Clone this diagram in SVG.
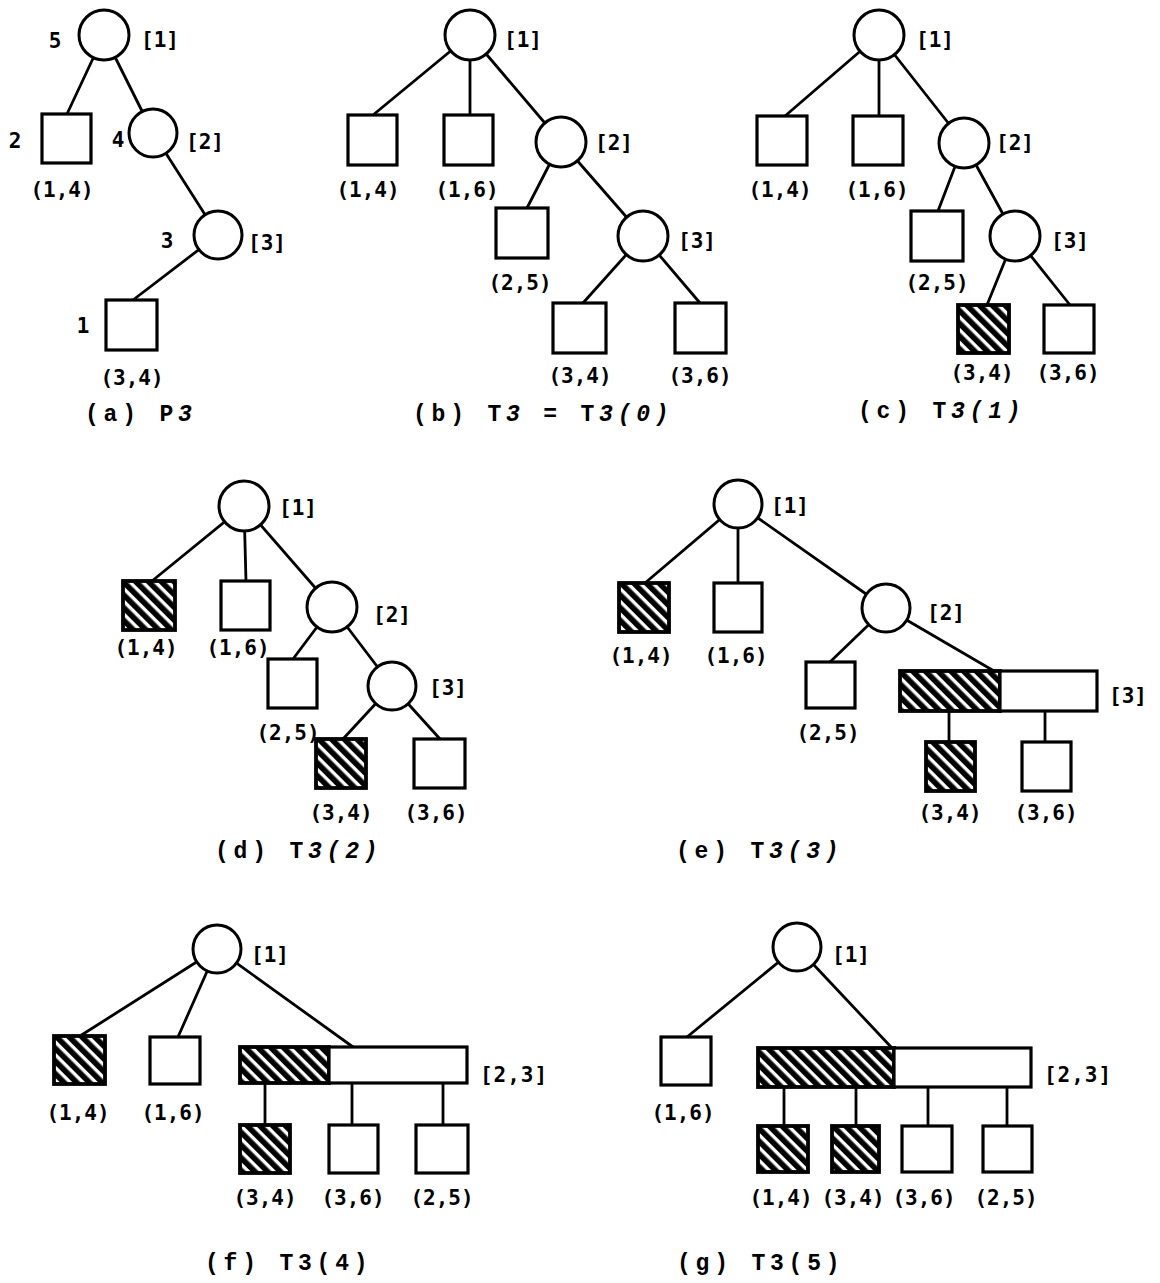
<svg xmlns="http://www.w3.org/2000/svg" width="1160" height="1283" viewBox="0 0 1160 1283">
<style>
.e{stroke:#000;stroke-width:2.8;fill:none;stroke-linecap:round}
.c{fill:#fff;stroke:#000;stroke-width:3}
.s{fill:#fff;stroke:#000;stroke-width:3.2}
.h{fill:url(#hatch);stroke:#000;stroke-width:3.8}
.t{font-family:"DejaVu Sans Mono","Liberation Mono",monospace;font-weight:bold;font-size:21px;text-anchor:middle;fill:#000}
.w{letter-spacing:1px}
.k{font-family:"Liberation Mono","DejaVu Sans Mono",monospace;font-weight:bold;font-size:23px;letter-spacing:4.8px;fill:#000}
.i{font-style:italic}
</style>
<defs>
<pattern id="hatch" patternUnits="userSpaceOnUse" width="9" height="9" patternTransform="rotate(45)">
<rect width="9" height="9" fill="#000"/>
<rect y="3" width="9" height="3.4" fill="#fff"/>
</pattern>
</defs>
<rect width="1160" height="1283" fill="#fff"/>
<g id="connectors" class="e">
<line x1="104" y1="35" x2="67" y2="114"/>
<line x1="104" y1="35" x2="153" y2="133"/>
<line x1="153" y1="133" x2="218" y2="235"/>
<line x1="218" y1="235" x2="133" y2="300"/>
<line x1="470" y1="35" x2="373" y2="115"/>
<line x1="470" y1="35" x2="470" y2="115"/>
<line x1="470" y1="35" x2="561" y2="142"/>
<line x1="561" y1="142" x2="527" y2="208"/>
<line x1="561" y1="142" x2="643" y2="236"/>
<line x1="643" y1="236" x2="583" y2="303"/>
<line x1="643" y1="236" x2="700" y2="303"/>
<line x1="879" y1="35" x2="785" y2="116"/>
<line x1="879" y1="35" x2="879" y2="116"/>
<line x1="879" y1="35" x2="964" y2="143"/>
<line x1="964" y1="143" x2="938" y2="211"/>
<line x1="964" y1="143" x2="1015" y2="236"/>
<line x1="1015" y1="236" x2="987" y2="305"/>
<line x1="1015" y1="236" x2="1070" y2="305"/>
<line x1="244" y1="506" x2="152" y2="581"/>
<line x1="244" y1="506" x2="246" y2="581"/>
<line x1="244" y1="506" x2="332" y2="607"/>
<line x1="332" y1="607" x2="293" y2="659"/>
<line x1="332" y1="607" x2="392" y2="686"/>
<line x1="392" y1="686" x2="343" y2="739"/>
<line x1="392" y1="686" x2="440" y2="739"/>
<line x1="738" y1="504" x2="645" y2="583"/>
<line x1="738" y1="504" x2="738" y2="583"/>
<line x1="738" y1="504" x2="886" y2="608"/>
<line x1="886" y1="608" x2="830" y2="662"/>
<line x1="886" y1="608" x2="994" y2="671"/>
<line x1="949" y1="711" x2="949" y2="742"/>
<line x1="1045" y1="711" x2="1045" y2="742"/>
<line x1="217" y1="949" x2="80" y2="1036"/>
<line x1="217" y1="949" x2="178" y2="1037"/>
<line x1="217" y1="949" x2="353" y2="1047"/>
<line x1="265" y1="1083" x2="265" y2="1125"/>
<line x1="352" y1="1083" x2="352" y2="1125"/>
<line x1="443" y1="1083" x2="443" y2="1125"/>
<line x1="797" y1="947" x2="687" y2="1037"/>
<line x1="797" y1="947" x2="892" y2="1048"/>
<line x1="784" y1="1087" x2="784" y2="1126"/>
<line x1="856" y1="1087" x2="856" y2="1126"/>
<line x1="928" y1="1087" x2="928" y2="1126"/>
<line x1="1007" y1="1087" x2="1007" y2="1126"/>
</g>
<!-- (a) -->
<g id="a-root"><circle class="c" cx="104" cy="35" r="25"/><text class="t" x="55" y="48">5</text><text class="t" x="160" y="47">[1]</text></g>
<g id="a-n2"><circle class="c" cx="153" cy="133" r="24"/><text class="t" x="118" y="147">4</text><text class="t" x="205" y="149">[2]</text></g>
<g id="a-n3"><circle class="c" cx="218" cy="235" r="24"/><text class="t" x="167" y="248">3</text><text class="t" x="267" y="250">[3]</text></g>
<g id="a-l14"><rect class="s" x="42" y="114" width="49" height="49"/><text class="t" x="15" y="148">2</text><text class="t" x="62" y="197">(1,4)</text></g>
<g id="a-l34"><rect class="s" x="106" y="300" width="51" height="50"/><text class="t" x="83" y="333">1</text><text class="t" x="132" y="385">(3,4)</text></g>
<text class="k" x="85" y="421">(a) P<tspan class="i">3</tspan></text>
<!-- (b) -->
<g id="b-root"><circle class="c" cx="470" cy="35" r="25"/><text class="t" x="523" y="47">[1]</text></g>
<g id="b-n2"><circle class="c" cx="561" cy="142" r="25"/><text class="t" x="614" y="150">[2]</text></g>
<g id="b-n3"><circle class="c" cx="643" cy="236" r="25"/><text class="t" x="697" y="248">[3]</text></g>
<g id="b-l14"><rect class="s" x="348" y="115" width="49" height="50"/><text class="t" x="368" y="197">(1,4)</text></g>
<g id="b-l16"><rect class="s" x="444" y="115" width="49" height="50"/><text class="t" x="467" y="197">(1,6)</text></g>
<g id="b-l25"><rect class="s" x="496" y="208" width="52" height="50"/><text class="t" x="520" y="290">(2,5)</text></g>
<g id="b-l34"><rect class="s" x="553" y="303" width="53" height="50"/><text class="t" x="580" y="383">(3,4)</text></g>
<g id="b-l36"><rect class="s" x="675" y="303" width="51" height="50"/><text class="t" x="700" y="383">(3,6)</text></g>
<text class="k" x="413" y="421">(b) T<tspan class="i">3</tspan> = T<tspan class="i">3(0)</tspan></text>
<!-- (c) -->
<g id="c-root"><circle class="c" cx="879" cy="35" r="25"/><text class="t" x="935" y="47">[1]</text></g>
<g id="c-n2"><circle class="c" cx="964" cy="143" r="25"/><text class="t" x="1015" y="150">[2]</text></g>
<g id="c-n3"><circle class="c" cx="1015" cy="236" r="25"/><text class="t" x="1070" y="248">[3]</text></g>
<g id="c-l14"><rect class="s" x="757" y="116" width="50" height="49"/><text class="t" x="780" y="197">(1,4)</text></g>
<g id="c-l16"><rect class="s" x="853" y="116" width="50" height="49"/><text class="t" x="877" y="197">(1,6)</text></g>
<g id="c-l25"><rect class="s" x="911" y="211" width="52" height="50"/><text class="t" x="937" y="290">(2,5)</text></g>
<g id="c-l34"><rect class="h" x="958" y="305" width="51" height="48"/><text class="t" x="982" y="380">(3,4)</text></g>
<g id="c-l36"><rect class="s" x="1044" y="305" width="50" height="48"/><text class="t" x="1068" y="380">(3,6)</text></g>
<text class="k" x="858" y="418">(c) T<tspan class="i">3(1)</tspan></text>
<!-- (d) -->
<g id="d-root"><circle class="c" cx="244" cy="506" r="25"/><text class="t" x="298" y="515">[1]</text></g>
<g id="d-n2"><circle class="c" cx="332" cy="607" r="25"/><text class="t" x="392" y="622">[2]</text></g>
<g id="d-n3"><circle class="c" cx="392" cy="686" r="24"/><text class="t" x="448" y="695">[3]</text></g>
<g id="d-l14"><rect class="h" x="123" y="581" width="52" height="49"/><text class="t" x="146" y="655">(1,4)</text></g>
<g id="d-l16"><rect class="s" x="221" y="581" width="49" height="49"/><text class="t" x="238" y="655">(1,6)</text></g>
<g id="d-l25"><rect class="s" x="268" y="659" width="49" height="49"/><text class="t" x="288" y="740">(2,5)</text></g>
<g id="d-l34"><rect class="h" x="316" y="739" width="50" height="49"/><text class="t" x="341" y="820">(3,4)</text></g>
<g id="d-l36"><rect class="s" x="414" y="739" width="51" height="49"/><text class="t" x="436" y="820">(3,6)</text></g>
<text class="k" x="215" y="858">(d) T<tspan class="i">3(2)</tspan></text>
<!-- (e) -->
<g id="e-root"><circle class="c" cx="738" cy="504" r="24"/><text class="t" x="790" y="513">[1]</text></g>
<g id="e-n2"><circle class="c" cx="886" cy="608" r="24"/><text class="t" x="946" y="620">[2]</text></g>
<g id="e-n3"><rect class="h" x="900" y="671" width="100" height="40"/><rect class="s" x="1000" y="671" width="97" height="40"/><text class="t" x="1128" y="703">[3]</text></g>
<g id="e-l14"><rect class="h" x="619" y="583" width="50" height="49"/><text class="t" x="641" y="663">(1,4)</text></g>
<g id="e-l16"><rect class="s" x="714" y="583" width="48" height="49"/><text class="t" x="736" y="663">(1,6)</text></g>
<g id="e-l25"><rect class="s" x="806" y="662" width="49" height="46"/><text class="t" x="828" y="740">(2,5)</text></g>
<g id="e-l34"><rect class="h" x="926" y="742" width="49" height="49"/><text class="t" x="950" y="820">(3,4)</text></g>
<g id="e-l36"><rect class="s" x="1022" y="742" width="49" height="49"/><text class="t" x="1046" y="820">(3,6)</text></g>
<text class="k" x="676" y="858">(e) T<tspan class="i">3(3)</tspan></text>
<!-- (f) -->
<g id="f-root"><circle class="c" cx="217" cy="949" r="24"/><text class="t" x="270" y="962">[1]</text></g>
<g id="f-n23"><rect class="h" x="240" y="1047" width="89" height="36"/><rect class="s" x="329" y="1047" width="138" height="36"/><text class="t w" x="514" y="1082">[2,3]</text></g>
<g id="f-l14"><rect class="h" x="54" y="1036" width="51" height="48"/><text class="t" x="78" y="1120">(1,4)</text></g>
<g id="f-l16"><rect class="s" x="150" y="1037" width="50" height="47"/><text class="t" x="173" y="1120">(1,6)</text></g>
<g id="f-l34"><rect class="h" x="240" y="1125" width="50" height="48"/><text class="t" x="265" y="1205">(3,4)</text></g>
<g id="f-l36"><rect class="s" x="329" y="1125" width="49" height="48"/><text class="t" x="353" y="1205">(3,6)</text></g>
<g id="f-l25"><rect class="s" x="416" y="1125" width="52" height="48"/><text class="t" x="442" y="1205">(2,5)</text></g>
<text class="k" x="205" y="1270">(f) T3(4)</text>
<!-- (g) -->
<g id="g-root"><circle class="c" cx="797" cy="947" r="24"/><text class="t" x="851" y="962">[1]</text></g>
<g id="g-n23"><rect class="h" x="758" y="1048" width="136" height="39"/><rect class="s" x="894" y="1048" width="137" height="39"/><text class="t w" x="1078" y="1082">[2,3]</text></g>
<g id="g-l16"><rect class="s" x="661" y="1037" width="50" height="48"/><text class="t" x="683" y="1120">(1,6)</text></g>
<g id="g-l14"><rect class="h" x="758" y="1126" width="50" height="46"/><text class="t" x="781" y="1205">(1,4)</text></g>
<g id="g-l34"><rect class="h" x="832" y="1126" width="47" height="46"/><text class="t" x="853" y="1205">(3,4)</text></g>
<g id="g-l36"><rect class="s" x="902" y="1126" width="50" height="46"/><text class="t" x="924" y="1205">(3,6)</text></g>
<g id="g-l25"><rect class="s" x="983" y="1126" width="49" height="46"/><text class="t" x="1006" y="1205">(2,5)</text></g>
<text class="k" x="677" y="1270">(g) T3(5)</text>
</svg>
